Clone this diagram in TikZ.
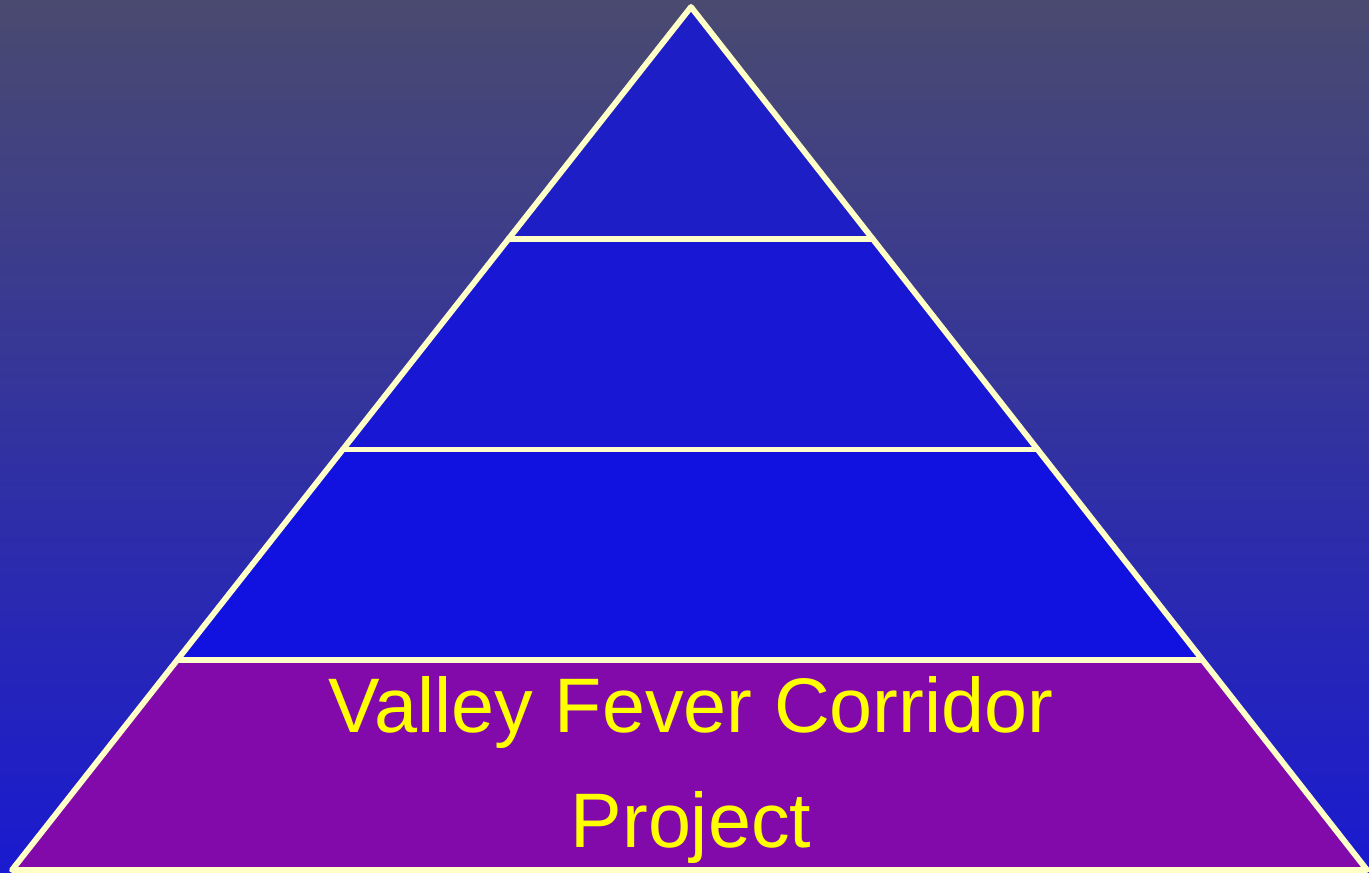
\documentclass[tikz,border=0pt]{standalone}
\usepackage{fontspec}
\setmainfont{Liberation Sans}
\usetikzlibrary{calc}

\definecolor{bgtop}{HTML}{4A4A70}
\definecolor{bgbottom}{HTML}{1A1AD0}
\definecolor{tiertop}{HTML}{1E1EC6}
\definecolor{tiermid}{HTML}{1818D4}
\definecolor{tierlow}{HTML}{1212E0}
\definecolor{tierbase}{HTML}{820AAA}
\definecolor{edgecream}{HTML}{FFFFC8}
\definecolor{labelyellow}{HTML}{FFFF00}

\begin{document}
\begin{tikzpicture}[
  tieredge/.style={draw=edgecream,line width=0.58mm,line join=round,line cap=round},
  tierlabel/.style={text=labelyellow,font=\fontsize{22}{32.5}\selectfont,align=center}
]
  % background
  \shade[top color=bgtop,bottom color=bgbottom] (0,0) rectangle (13.69,8.73);
  \useasboundingbox (0,0) rectangle (13.69,8.73);

  \coordinate (apex) at (6.91,8.66);
  \coordinate (bl) at (0.12,0.03);
  \coordinate (br) at (13.67,0.03);

  % tier boundaries
  \foreach \n/\t in {one/0.2436,two/0.4872,three/0.7309} {
    \coordinate (l\n) at ($(bl)!\t!(apex)$);
    \coordinate (r\n) at ($(br)!\t!(apex)$);
  }

  \fill[tierbase] (bl) -- (br) -- (rone) -- (lone) -- cycle;
  \fill[tierlow] (lone) -- (rone) -- (rtwo) -- (ltwo) -- cycle;
  \fill[tiermid] (ltwo) -- (rtwo) -- (rthree) -- (lthree) -- cycle;
  \fill[tiertop] (lthree) -- (rthree) -- (apex) -- cycle;

  \draw[tieredge] (bl) -- (br) -- (apex) -- cycle;
  \draw[tieredge] (lone) -- (rone);
  \draw[tieredge] (ltwo) -- (rtwo);
  \draw[tieredge] (lthree) -- (rthree);

  \node[tierlabel] (base) at (6.91,1.03) {Valley Fever Corridor\\Project};
\end{tikzpicture}
\end{document}
